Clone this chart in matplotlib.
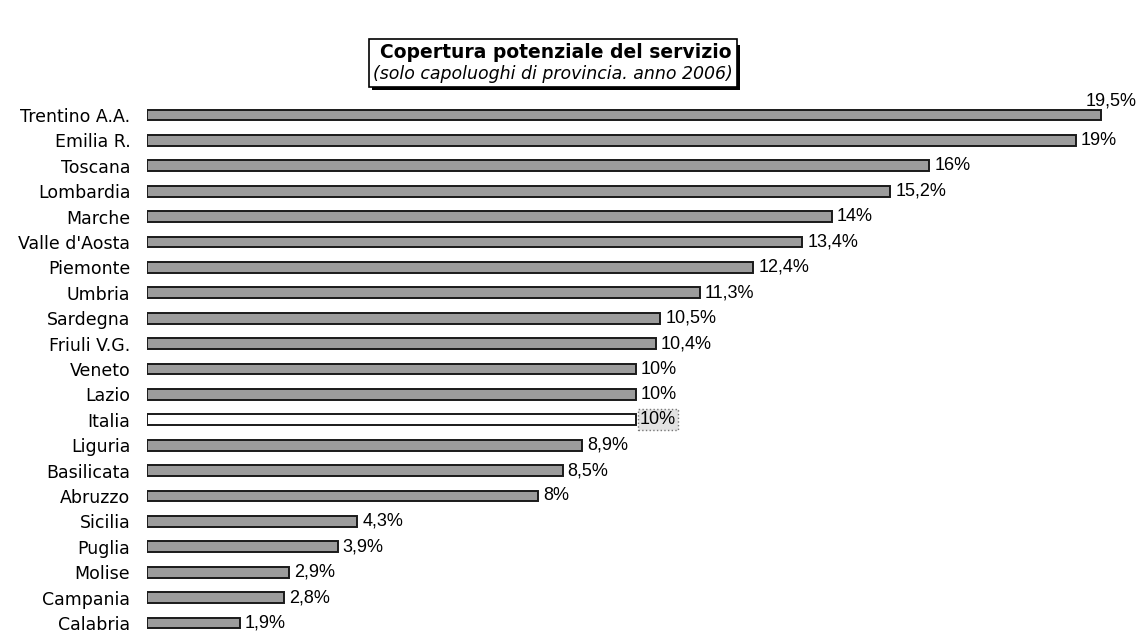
import matplotlib
matplotlib.use("Agg")
import matplotlib.pyplot as plt
from matplotlib.patches import Rectangle

regions = ["Trentino A.A.", "Emilia R.", "Toscana", "Lombardia", "Marche", "Valle d'Aosta",
           "Piemonte", "Umbria", "Sardegna", "Friuli V.G.", "Veneto", "Lazio", "Italia",
           "Liguria", "Basilicata", "Abruzzo", "Sicilia", "Puglia", "Molise", "Campania", "Calabria"]
values = [19.5, 19, 16, 15.2, 14, 13.4, 12.4, 11.3, 10.5, 10.4, 10, 10, 10,
          8.9, 8.5, 8, 4.3, 3.9, 2.9, 2.8, 1.9]
value_labels = ["19,5%", "19%", "16%", "15,2%", "14%", "13,4%", "12,4%", "11,3%", "10,5%",
                "10,4%", "10%", "10%", "10%", "8,9%", "8,5%", "8%", "4,3%", "3,9%", "2,9%",
                "2,8%", "1,9%"]
title = "Copertura potenziale del servizio"
subtitle = "(solo capoluoghi di provincia. anno 2006)"

plt.rcParams['font.family'] = ['Liberation Sans', 'DejaVu Sans']

fig = plt.figure(figsize=(11.41, 6.34), dpi=100)
ax = fig.add_axes([147/1141, 0, 1 - 147/1141, (634 - 100)/634])

ypos = list(range(len(regions)))
colors = ['white' if r == "Italia" else '#9c9c9c' for r in regions]
ax.barh(ypos, values, height=0.42, color=colors, edgecolor='#1a1a1a', linewidth=1.4)

for y, v, lab, r in zip(ypos, values, value_labels, regions):
    if r == "Italia":
        ax.text(v + 0.08, y, lab, va='center', ha='left', fontsize=13,
                bbox=dict(boxstyle='square,pad=0.12', facecolor='#e2e2e2', edgecolor='#777777', linestyle=':'))
    elif r == "Trentino A.A.":
        ax.text(v - 0.3, y - 0.55, lab, va='center', ha='left', fontsize=13)
    else:
        ax.text(v + 0.1, y, lab, va='center', ha='left', fontsize=13)

ax.set_xlim(0, 994/48.9)
ax.set_ylim((634 - 115)/25.4, (100 - 115)/25.4)
ax.set_yticks(ypos)
ax.set_yticklabels(regions, fontsize=12.5, family='DejaVu Sans', color='black')
ax.tick_params(axis='y', length=0, pad=12)
ax.set_xticks([])
for s in ax.spines.values():
    s.set_visible(False)

fig.text(556/1141, 1 - 52/634, title, ha='center', va='center', fontsize=13.5,
         fontweight='bold', family='DejaVu Sans')
fig.text(553/1141, 1 - 74/634, subtitle, ha='center', va='center', fontsize=12.5,
         style='italic', family='DejaVu Sans')
fig.patches.append(Rectangle((369/1141, 1 - 87/634), (737 - 369)/1141, (87 - 39)/634,
                             transform=fig.transFigure, facecolor='none', edgecolor='black', linewidth=1.2))
fig.patches.append(Rectangle((372/1141, 1 - 90/634), (737 - 369)/1141, 3/634,
                             transform=fig.transFigure, facecolor='black', edgecolor='none'))
fig.patches.append(Rectangle((737/1141, 1 - 90/634), 3/1141, (87 - 42)/634,
                             transform=fig.transFigure, facecolor='black', edgecolor='none'))

fig.savefig("out.png", dpi=100)
